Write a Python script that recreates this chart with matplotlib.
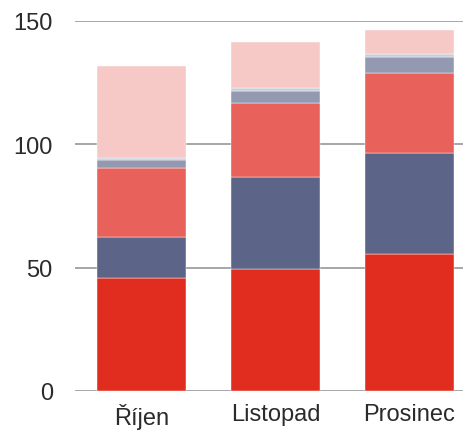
import numpy as np
import matplotlib.pyplot as plt

# data
mesice = ['Říjen', 'Listopad', 'Prosinec']
s1 = [46.0, 49.6, 55.4]
s2 = [16.3, 37.1, 41.2]
s3 = [28.1, 30.2, 32.5]
s4 = [3.2, 4.8, 6.3]
s5 = [1.0, 1.1, 1.2]
s6 = [37.2, 18.5, 9.9]

barvy = ['#E12D1F', '#5C6587', '#E8615A', '#9399B1', '#C9CDDB', '#F6C9C7']

fig = plt.figure(figsize=(4.64, 4.31), dpi=100)
ax = fig.add_axes([75/464, 39/431, 389/464, 370/431])

x = np.arange(len(mesice))
spodek = np.zeros(len(mesice))
for serie, barva in zip([s1, s2, s3, s4, s5, s6], barvy):
    ax.bar(x, serie, width=0.664, bottom=spodek, color=barva, zorder=3,
           edgecolor='white', linewidth=0.3)
    spodek += np.array(serie)

ax.set_xlim(-0.496, 2.407)
ax.set_ylim(0, 150)
ax.set_yticks([0, 50, 100, 150])
ax.set_xticks(x)
ax.set_xticklabels(mesice)

for s in ax.spines.values():
    s.set_visible(False)
ax.yaxis.grid(True, color='#A6A6A6', linewidth=1.4, zorder=0)
ax.set_axisbelow(True)

ax.tick_params(axis='y', length=0, pad=16, labelsize=17, labelcolor='#2b2b2b')
ax.tick_params(axis='x', length=0, pad=9, labelsize=17, labelcolor='#2b2b2b')
for lbl in ax.get_xticklabels() + ax.get_yticklabels():
    lbl.set_fontfamily('Liberation Sans')

fig.savefig('out.png', dpi=100)
